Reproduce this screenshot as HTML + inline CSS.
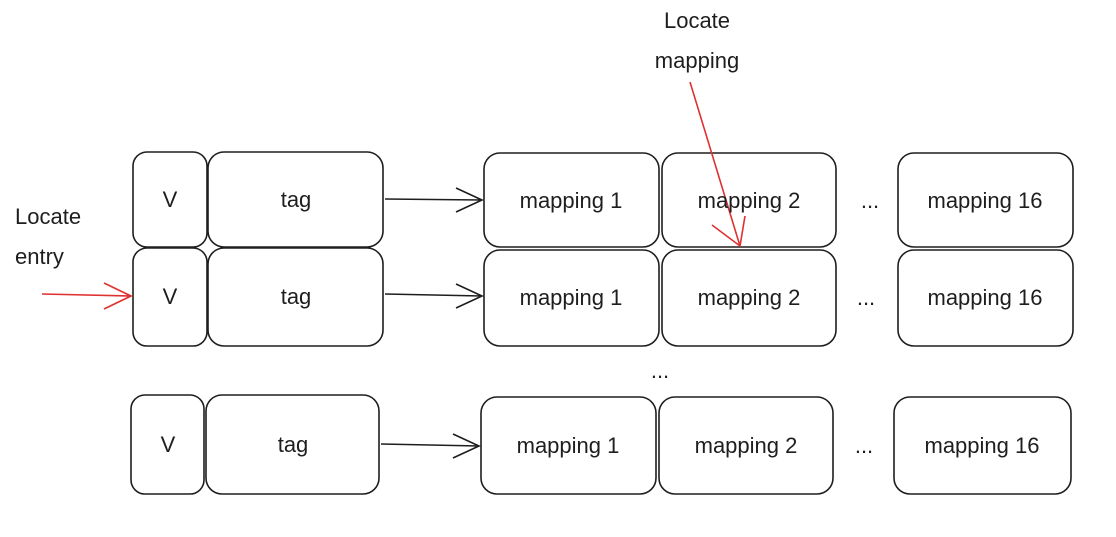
<!DOCTYPE html>
<html><head><meta charset="utf-8"><style>
html,body{margin:0;padding:0;background:#fff;}
svg{display:block}
text{font-family:"Liberation Sans","DejaVu Sans",sans-serif;font-size:22px;fill:#1e1e1e;}
</style></head><body>
<svg width="1116" height="537" viewBox="0 0 1116 537" xmlns="http://www.w3.org/2000/svg">
<g fill="none" stroke="#1e1e1e" stroke-width="1.6">
<!-- row 1 -->
<rect x="133" y="152" width="74" height="95" rx="14"/>
<rect x="208" y="152" width="175" height="95" rx="16"/>
<rect x="484" y="153" width="175" height="94" rx="16"/>
<rect x="662" y="153" width="174" height="94" rx="16"/>
<rect x="898" y="153" width="175" height="94" rx="16"/>
<!-- row 2 -->
<rect x="133" y="248" width="74" height="98" rx="14"/>
<rect x="208" y="248" width="175" height="98" rx="16"/>
<rect x="484" y="250" width="175" height="96" rx="16"/>
<rect x="662" y="250" width="174" height="96" rx="16"/>
<rect x="898" y="250" width="175" height="96" rx="16"/>
<!-- row 3 -->
<rect x="131" y="395" width="73" height="99" rx="14"/>
<rect x="206" y="395" width="173" height="99" rx="16"/>
<rect x="481" y="397" width="175" height="97" rx="16"/>
<rect x="659" y="397" width="174" height="97" rx="16"/>
<rect x="894" y="397" width="177" height="97" rx="16"/>
<!-- arrows tag->mapping -->
<path d="M385 199 L482 200 M456 188 L482 200 L456 212"/>
<path d="M385 294 L482 296 M456 284 L482 296 L456 308"/>
<path d="M381 444 L479 446 M453 434 L479 446 L453 458"/>
</g>
<g fill="none" stroke="#e03131" stroke-width="1.6">
<path d="M42 294 L131 296 M104 283 L131 296 L104 309"/>
<path d="M690 82 L740 246 M712 225 L740 246 L745 216"/>
</g>
<g text-anchor="middle">
<text x="170" y="207">V</text><text x="296" y="207">tag</text>
<text x="571" y="208">mapping 1</text><text x="749" y="208">mapping 2</text>
<text x="870" y="208">...</text><text x="985" y="208">mapping 16</text>
<text x="170" y="304">V</text><text x="296" y="304">tag</text>
<text x="571" y="305">mapping 1</text><text x="749" y="305">mapping 2</text>
<text x="866" y="305">...</text><text x="985" y="305">mapping 16</text>
<text x="660" y="378">...</text>
<text x="168" y="452">V</text><text x="293" y="452">tag</text>
<text x="568" y="453">mapping 1</text><text x="746" y="453">mapping 2</text>
<text x="864" y="453">...</text><text x="982" y="453">mapping 16</text>
<text x="697" y="28">Locate</text><text x="697" y="68">mapping</text>
</g>
<text x="15" y="224">Locate</text>
<text x="15" y="264">entry</text>
</svg>
</body></html>
